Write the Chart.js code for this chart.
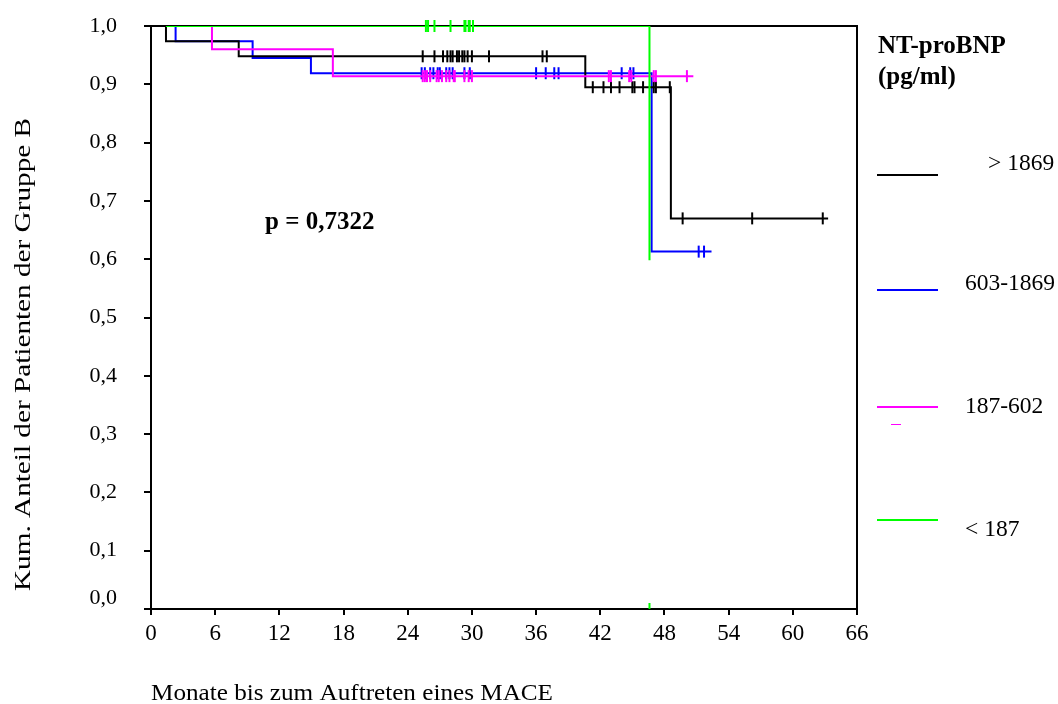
<!DOCTYPE html>
<html>
<head>
<meta charset="utf-8">
<script src="https://cdn.jsdelivr.net/npm/chart.js@4/dist/chart.umd.min.js"></script>
<style>
  html, body { margin: 0; padding: 0; background: #fff; }
</style>
</head>
<body>
<canvas id="km" width="1058" height="704"></canvas>
<script>
// Kaplan-Meier-Kurven, Gruppe B nach NT-proBNP-Quartilen
const xTicks = [0, 6, 12, 18, 24, 30, 36, 42, 48, 54, 60, 66];
const yTicks = [0, 0.1, 0.2, 0.3, 0.4, 0.5, 0.6, 0.7, 0.8, 0.9, 1.0];

const groupNames = ['> 1869', '603-1869', '187-602', '< 187'];
const groupColors = ['#000000', '#0000ff', '#ff00ff', '#00ff00'];

// Stufen der Kurven: Zeitpunkte (Monate) und kum. Anteil nach dem Ereignis
const blackTimes = [1.4, 1.4, 8.2, 40.6, 48.6, 63.3];
const blackSurv  = [1.0, 0.974, 0.948, 0.895, 0.670, 0.670];
const blueTimes  = [1.4, 2.3, 9.5, 14.95, 46.8, 52.4];
const blueSurv   = [1.0, 0.974, 0.945, 0.919, 0.613, 0.613];
const pinkTimes  = [1.4, 5.7, 17.0, 50.7];
const pinkSurv   = [1.0, 0.960, 0.914, 0.914];
const greenTimes = [1.4, 46.6, 46.6];
const greenSurv  = [1.0, 1.0, 0.598];

// zensierte Fälle (Monate)
const blackCens = [25.4, 26.5, 27.3, 27.7, 28.0, 28.2, 28.6, 28.8, 29.1, 29.3, 29.6, 30.0, 31.6, 36.6, 37.0,
                   41.3, 42.3, 43.0, 43.8, 45.0, 45.2, 46.0, 47.0, 47.2, 48.5, 49.7, 56.2, 62.8];
const blueCens  = [25.3, 25.6, 26.1, 26.4, 26.8, 27.0, 27.6, 27.9, 28.2, 29.3, 29.8, 36.0, 36.9, 37.7, 38.1,
                   44.0, 44.8, 45.1, 51.2, 51.7];
const pinkCens  = [25.4, 25.6, 25.8, 26.1, 26.7, 26.9, 27.2, 27.6, 27.9, 28.3, 28.4, 29.3, 29.7, 30.0,
                   42.8, 43.0, 44.7, 44.9, 47.0, 47.2, 50.1];
const greenCens = [25.7, 25.9, 26.5, 28.0, 29.3, 29.4, 29.7, 29.8, 30.1];
const greenFloorCens = [46.6];

const pValue = 'p = 0,7322';
const xTitle = 'Monate bis zum Auftreten eines MACE';
const yTitle = 'Kum. Anteil der Patienten der Gruppe B';

function steps(times, surv) {
  return times.map((t, i) => ({ x: t, y: surv[i] }));
}
function levelAt(times, surv, t) {
  let s = surv[0];
  for (let i = 0; i < times.length; i++) if (times[i] <= t) s = surv[i];
  return s;
}
function marks(cens, times, surv) {
  return cens.map(t => ({ x: t, y: levelAt(times, surv, t) }));
}
const fmt = v => v.toFixed(1).replace('.', ',');

const serif = '"Liberation Serif", "Times New Roman", serif';

function curve(data, color) {
  return { type: 'line', data, borderColor: color, borderWidth: 2, stepped: 'before',
           pointRadius: 0, fill: false, tension: 0 };
}
function censor(data, color, clip) {
  return { type: 'scatter', data, borderColor: color, backgroundColor: color,
           pointStyle: 'line', rotation: 90, pointRadius: 6, pointBorderWidth: 2,
           pointHoverRadius: 6, clip: clip };
}

// Text in gegebener Breite (leicht gestreckt wie im SPSS-Export)
function stretchText(ctx, text, x, y, width) {
  const w = ctx.measureText(text).width;
  ctx.save();
  ctx.translate(x, y);
  ctx.scale(width / w, 1);
  ctx.fillText(text, 0, 0);
  ctx.restore();
}

const decor = {
  id: 'decor',
  beforeDatasetsDraw(chart) {
    const { ctx, chartArea: a } = chart;
    ctx.save();
    ctx.strokeStyle = '#000';
    ctx.lineWidth = 2;
    ctx.beginPath();
    ctx.moveTo(a.left, a.top);
    ctx.lineTo(a.right, a.top);
    ctx.lineTo(a.right, a.bottom);
    ctx.stroke();
    ctx.restore();
  },
  afterDraw(chart) {
    const { ctx } = chart;
    const ys = chart.scales.y;
    ctx.save();
    ctx.fillStyle = '#000';
    ctx.textBaseline = 'alphabetic';
    ctx.textAlign = 'left';

    // 0,0 etwas über dem Strich, damit es nicht an die x-Beschriftung stößt
    ctx.font = '22px ' + serif;
    ctx.textAlign = 'right';
    ctx.textBaseline = 'middle';
    ctx.fillText(fmt(0), 117, ys.getPixelForValue(0) - 11);
    ctx.textAlign = 'left';
    ctx.textBaseline = 'alphabetic';

    ctx.font = '23px ' + serif;
    stretchText(ctx, xTitle, 151, 700, 402);

    ctx.save();
    ctx.translate(30, 591);
    ctx.rotate(-Math.PI / 2);
    stretchText(ctx, yTitle, 0, 0, 473);
    ctx.restore();

    ctx.font = 'bold 25px ' + serif;
    ctx.fillText(pValue, 265, 229);

    // Legende
    ctx.fillText('NT-proBNP', 878, 53);
    ctx.fillText('(pg/ml)', 878, 84);
    const lineY = [175, 290, 407, 520];
    const textY = [164, 284, 407, 530];
    const textX = [988, 965, 965, 965];
    ctx.font = '23.5px ' + serif;
    ctx.textBaseline = 'middle';
    groupNames.forEach((name, i) => {
      ctx.strokeStyle = groupColors[i];
      ctx.lineWidth = 2;
      ctx.beginPath();
      ctx.moveTo(877, lineY[i]);
      ctx.lineTo(938, lineY[i]);
      ctx.stroke();
      ctx.fillText(name, textX[i], textY[i]);
    });
    ctx.strokeStyle = groupColors[2];
    ctx.lineWidth = 1;
    ctx.beginPath();
    ctx.moveTo(891, 424.5);
    ctx.lineTo(901, 424.5);
    ctx.stroke();
    ctx.restore();
  }
};

new Chart(document.getElementById('km'), {
  data: {
    datasets: [
      censor(marks(greenCens, greenTimes, greenSurv), groupColors[3], false),
      censor(greenFloorCens.map(t => ({ x: t, y: 0 })), groupColors[3], 0),
      curve(steps(greenTimes, greenSurv), groupColors[3]),
      censor(marks(pinkCens, pinkTimes, pinkSurv), groupColors[2], false),
      curve(steps(pinkTimes, pinkSurv), groupColors[2]),
      censor(marks(blackCens, blackTimes, blackSurv), groupColors[0], false),
      curve(steps(blackTimes, blackSurv), groupColors[0]),
      censor(marks(blueCens, blueTimes, blueSurv), groupColors[1], false),
      curve(steps(blueTimes, blueSurv), groupColors[1])
    ]
  },
  options: {
    responsive: false,
    animation: false,
    devicePixelRatio: 1,
    layout: { padding: { top: 26, right: 201, left: 0, bottom: 0 } },
    plugins: { legend: { display: false }, tooltip: { enabled: false } },
    scales: {
      x: {
        type: 'linear', min: 0, max: 66,
        afterBuildTicks: s => { s.ticks = xTicks.map(v => ({ value: v })); },
        afterFit: s => { s.height = 95; s.paddingLeft = 0; s.paddingRight = 0; },
        ticks: { color: '#000', font: { family: serif, size: 23 }, padding: 5, maxRotation: 0 },
        grid: { drawOnChartArea: false, tickLength: 6, color: '#000', lineWidth: 2 },
        border: { color: '#000', width: 2 }
      },
      y: {
        type: 'linear', min: 0, max: 1,
        afterBuildTicks: s => { s.ticks = yTicks.map(v => ({ value: v })); },
        afterFit: s => { s.width = 151; s.paddingTop = 0; s.paddingBottom = 0; },
        ticks: { color: '#000', font: { family: serif, size: 22 }, padding: 27,
                 callback: v => (v === 0 ? '' : fmt(v)) },
        grid: { drawOnChartArea: false, tickLength: 7, color: '#000', lineWidth: 2 },
        border: { color: '#000', width: 2 }
      }
    }
  },
  plugins: [decor]
});
</script>
</body>
</html>
